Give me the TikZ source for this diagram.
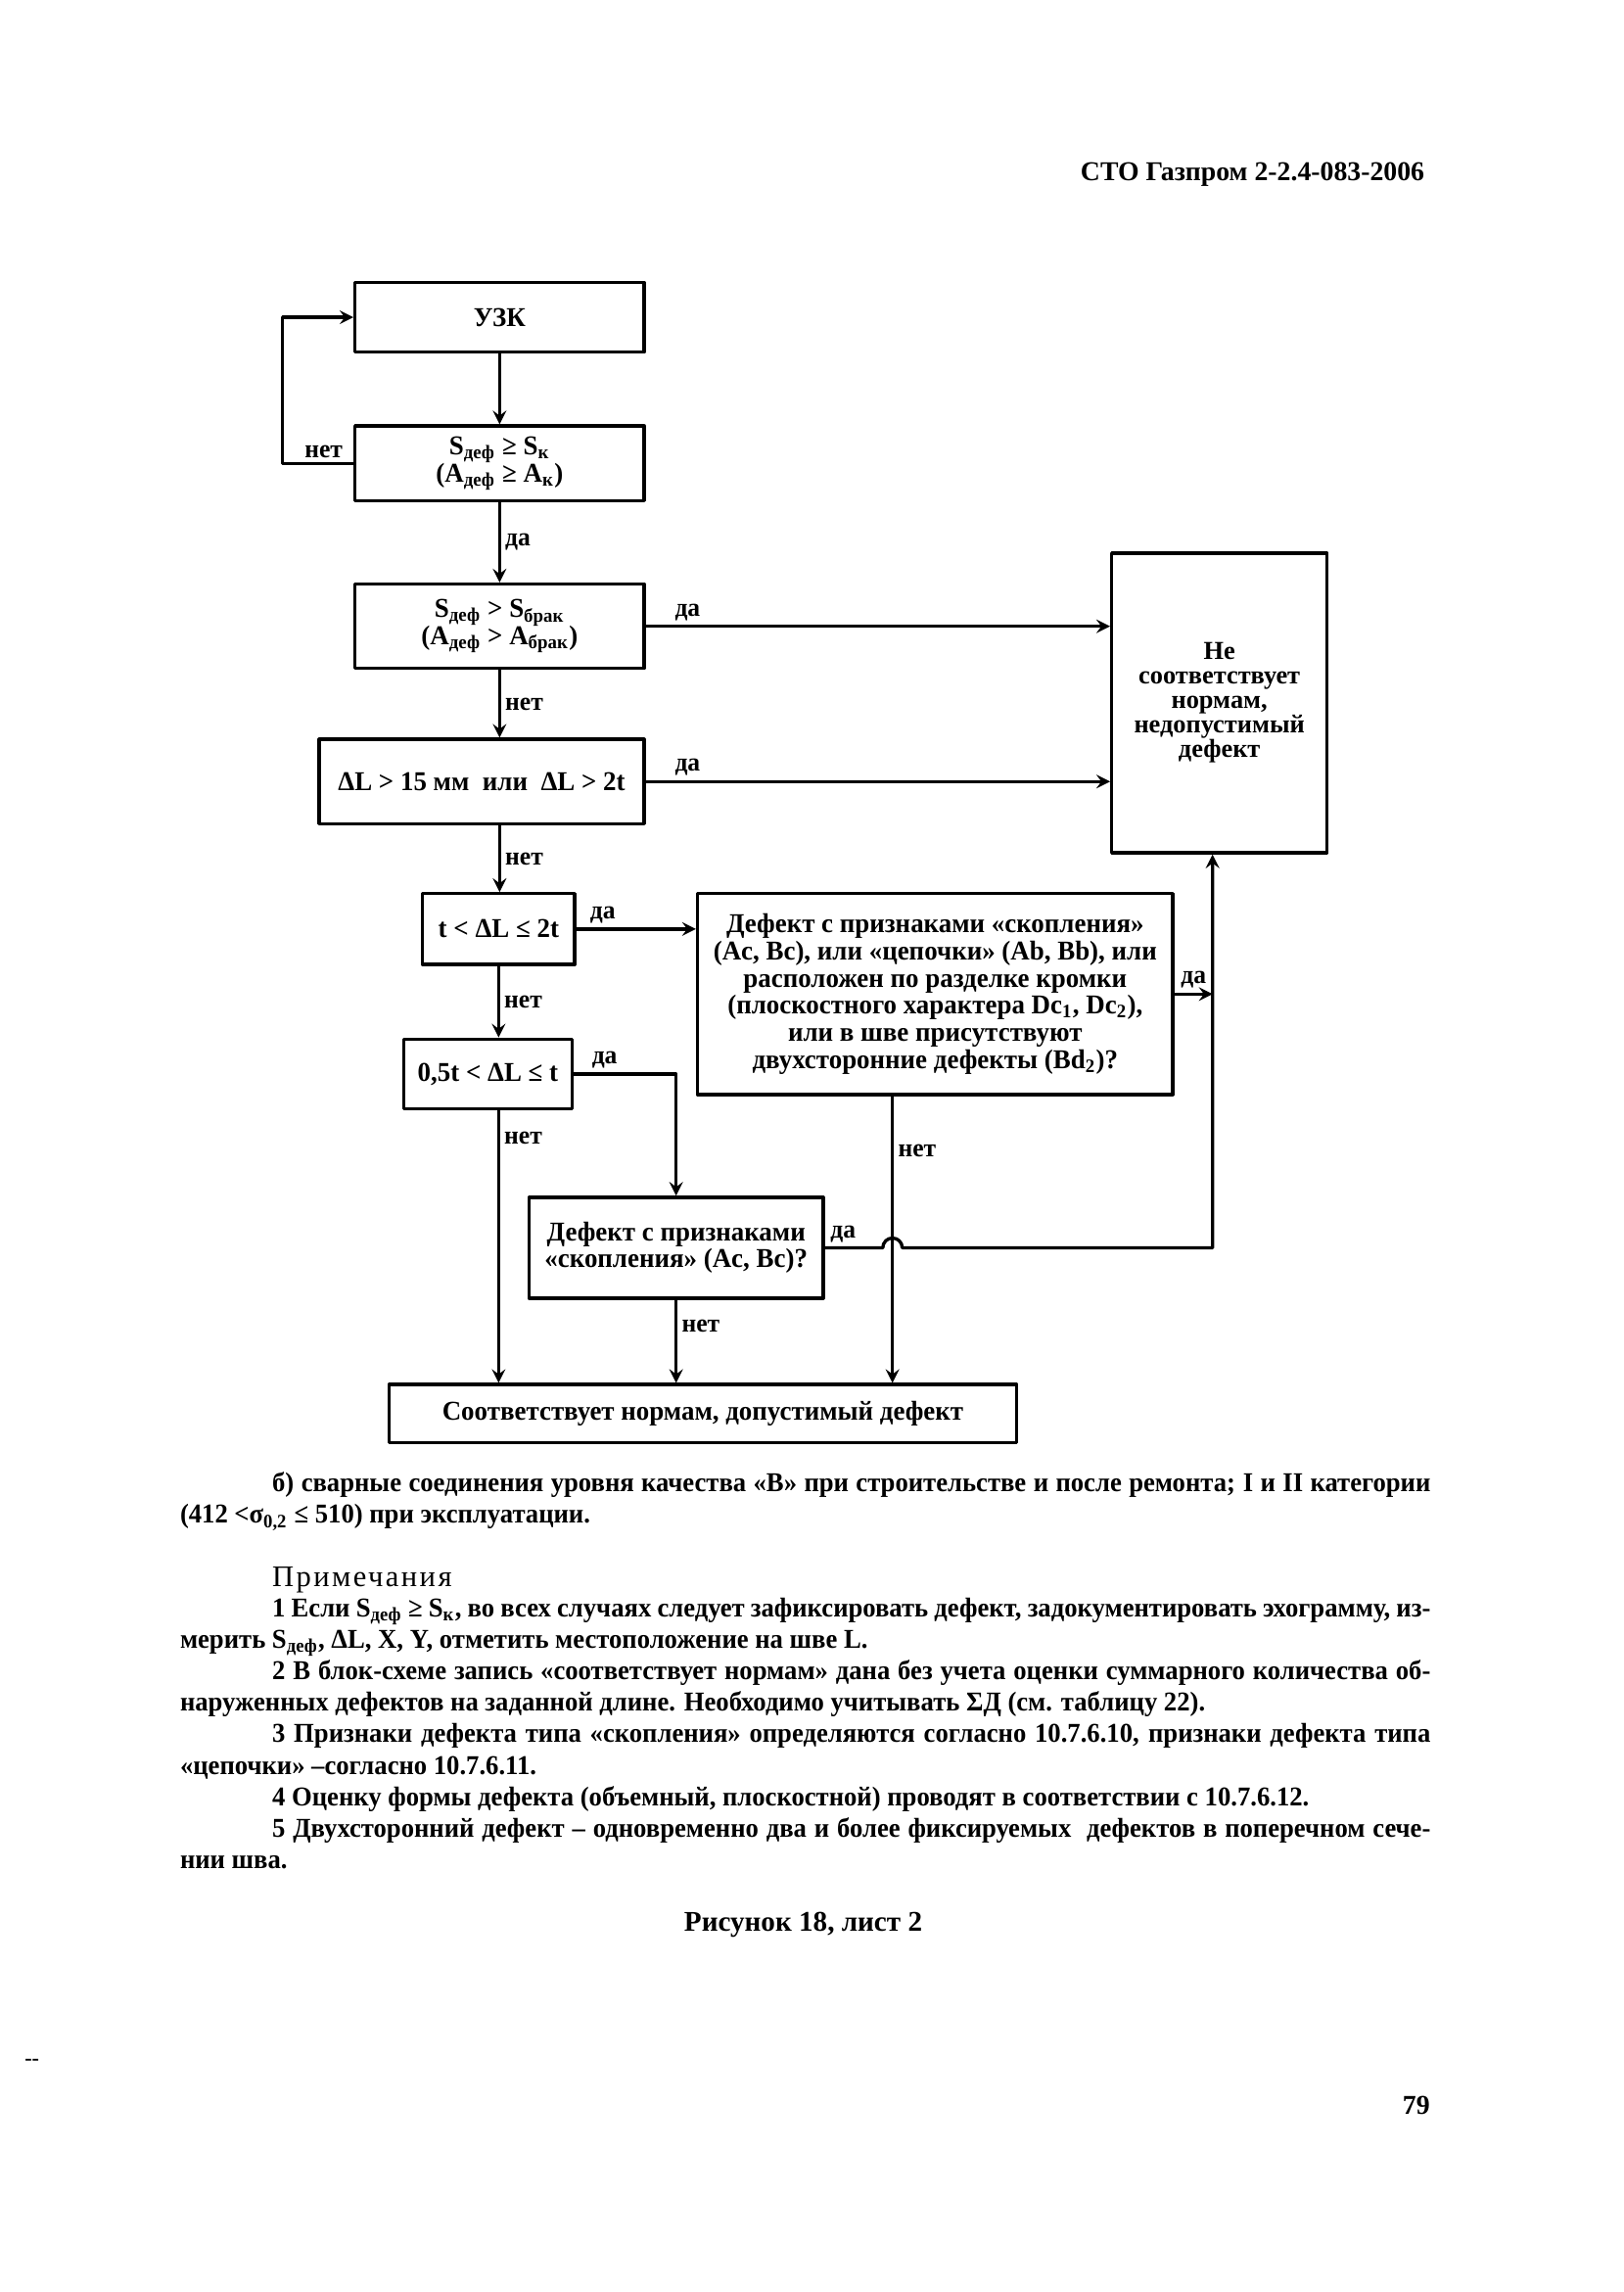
\documentclass[tikz,border=0pt]{standalone}
\usepackage{fontspec}
\setmainfont{Liberation Serif}
\newfontfamily\bodyf[FakeStretch=0.96]{Liberation Serif}
\newfontfamily\boxf[FakeStretch=0.97]{Liberation Serif}
\usetikzlibrary{positioning}
\begin{document}
\begin{tikzpicture}[x=0.12546mm, y=-0.12546mm, >=stealth, line join=round, line cap=round, line width=1.2pt,
	blk/.style={draw, inner sep=1pt, align=center, font=\boxf\bfseries\fontsize{10}{10}\selectfont},
	lbl/.style={inner sep=1.5pt, font=\boxf\bfseries\fontsize{9.5}{10}\selectfont},
	txt/.style={anchor=base west, inner sep=0pt, font=\bodyf\bfseries\fontsize{10}{12}\selectfont}]
	\def\u{0.12546mm} % 1 unit
	\def\lw{149.8mm} % justified line
	\path[use as bounding box, fill=white] (0,0) rectangle (1674,2362.3);
	\node[anchor=base east, inner sep=0pt, font=\bfseries\fontsize{10}{12}\selectfont] (hdr) at (1470,186) {СТО Газпром 2-2.4-083-2006};
	% blocks
	\node[blk, minimum width=298*\u, minimum height=72*\u] (uzk) at (515,327) {УЗК};
	\node[blk, minimum width=298*\u, minimum height=77*\u] (s2) at (515,477.5) {S\textsubscript{деф} ≥ S\textsubscript{к}\\(A\textsubscript{деф} ≥ A\textsubscript{к})};
	\node[blk, minimum width=298*\u, minimum height=87*\u] (s3) at (515,645.5) {S\textsubscript{деф} > S\textsubscript{брак}\\(A\textsubscript{деф} > A\textsubscript{брак})};
	\node[blk, minimum width=335*\u, minimum height=87*\u] (s4) at (496.5,805.5) {ΔL > 15 мм\ \ или\ \ ΔL > 2t};
	\node[blk, minimum width=222*\u, minimum height=309*\u, font=\bfseries\fontsize{9.5}{9}\selectfont] (ne) at (1257,724.5) {Не\\соответствует\\нормам,\\недопустимый\\дефект};
	\node[blk, minimum width=157*\u, minimum height=73*\u] (c5) at (514,957.5) {t < ΔL ≤ 2t};
	\node[blk, minimum width=490*\u, minimum height=207*\u] (c6) at (964,1024.5) {Дефект с признаками «скопления»\\(Ac, Bc), или «цепочки» (Ab, Bb), или\\расположен по разделке кромки\\(плоскостного характера Dc\textsubscript{1}, Dc\textsubscript{2}),\\или в шве присутствуют\\двухсторонние дефекты (Bd\textsubscript{2})?};
	\node[blk, minimum width=174*\u, minimum height=72*\u] (c7) at (503,1107) {0,5t < ΔL ≤ t};
	\node[blk, minimum width=303*\u, minimum height=104*\u] (c8) at (697,1286) {Дефект с признаками\\«скопления» (Ac, Bc)?};
	\node[blk, minimum width=647*\u, minimum height=60*\u] (ok) at (724.5,1457) {Соответствует нормам, допустимый дефект};
	\coordinate (hop) at (920,1286);
	\coordinate (rj) at (1250,1286);
	% arrows
	\draw[->] (uzk) -- (s2);
	\draw[->] (s2.west) -- node[lbl, above, pos=0.42]{нет} ++(-73,0) |- (uzk.west);
	\draw[->] (s2) -- node[lbl, right]{да} (s3);
	\draw[->] (s3) -- node[lbl, above, pos=0.09]{да} (s3 -| ne.west);
	\draw[->] (s3) -- node[lbl, right]{нет} (s3 |- s4.north);
	\draw[->] (s4) -- node[lbl, above, pos=0.09]{да} (s4 -| ne.west);
	\draw[->] (s3 |- s4.south) -- node[lbl, right]{нет} (s3 |- c5.north);
	\draw[->] (c5) -- node[lbl, above, pos=0.22]{да} (c5 -| c6.west);
	\draw[->] (c5) -- node[lbl, right]{нет} (c5 |- c7.north);
	\draw[->] (c7.east) -- node[lbl, above, pos=0.3]{да} (c7.east -| c8) -- (c8);
	\draw[->] (c7.south -| c5) -- node[lbl, right, pos=0.1]{нет} (c5 |- ok.north);
	\draw[->] (c6.south -| hop) -- node[lbl, right, pos=0.19]{нет} (hop |- ok.north);
	\draw[->] (c8) -- node[lbl, right, pos=0.31]{нет} (c8 |- ok.north);
	\draw[->] (c6) -- node[lbl, above]{да} (c6 -| rj);
	\draw[->] (c8.east) node[lbl, above right]{да} -- ([xshift=-1.25mm]hop) arc (180:360:10) -- (rj) -- (rj |- ne.south);
	% text
	\node[txt] (t1) at (279,1537) {\makebox[\lw][s]{б) сварные соединения уровня качества «В» при строительстве и после ремонта; I и II категории}};
	\node[txt] (t2) at (184,1570) {(412 <σ\textsubscript{0,2} ≤ 510) при эксплуатации.};
	\node[txt, font=\fontsize{11}{12}\selectfont\addfontfeature{LetterSpace=8}] (t3) at (279,1635) {Примечания};
	\node[txt] (t4) at (279,1666) {\makebox[\lw][s]{1 Если S\textsubscript{деф} ≥ S\textsubscript{к}, во всех случаях следует зафиксировать дефект, задокументировать эхограмму, из-}};
	\node[txt] (t5) at (184,1698.5) {мерить S\textsubscript{деф}, ΔL, X, Y, отметить местоположение на шве L.};
	\node[txt] (t6) at (279,1731) {\makebox[\lw][s]{2 В блок-схеме запись «соответствует нормам» дана без учета оценки суммарного количества об-}};
	\node[txt] (t7) at (184,1763.5) {наруженных дефектов на заданной длине. Необходимо учитывать ΣД (см. таблицу 22).};
	\node[txt] (t8) at (279,1796) {\makebox[\lw][s]{3 Признаки дефекта типа «скопления» определяются согласно 10.7.6.10, признаки дефекта типа}};
	\node[txt] (t9) at (184,1828.5) {«цепочки» –согласно 10.7.6.11.};
	\node[txt] (t10) at (279,1861) {4 Оценку формы дефекта (объемный, плоскостной) проводят в соответствии с 10.7.6.12.};
	\node[txt] (t11) at (279,1893.5) {\makebox[\lw][s]{5 Двухсторонний дефект – одновременно два и более фиксируемых\ \ дефектов в поперечном сече-}};
	\node[txt] (t12) at (184,1926) {нии шва.};
	\node[anchor=base, inner sep=0pt, font=\bfseries\fontsize{10.5}{12}\selectfont] (cap) at (828,1990) {Рисунок 18, лист 2};
	\node[inner sep=0pt, font=\bfseries\fontsize{10}{12}\selectfont] (pg) at (1460,2170) {79};
	\node[inner sep=0pt, font=\bfseries\fontsize{8}{9}\selectfont] (dd) at (33,2126) {-{}-};
\end{tikzpicture}
\end{document}
